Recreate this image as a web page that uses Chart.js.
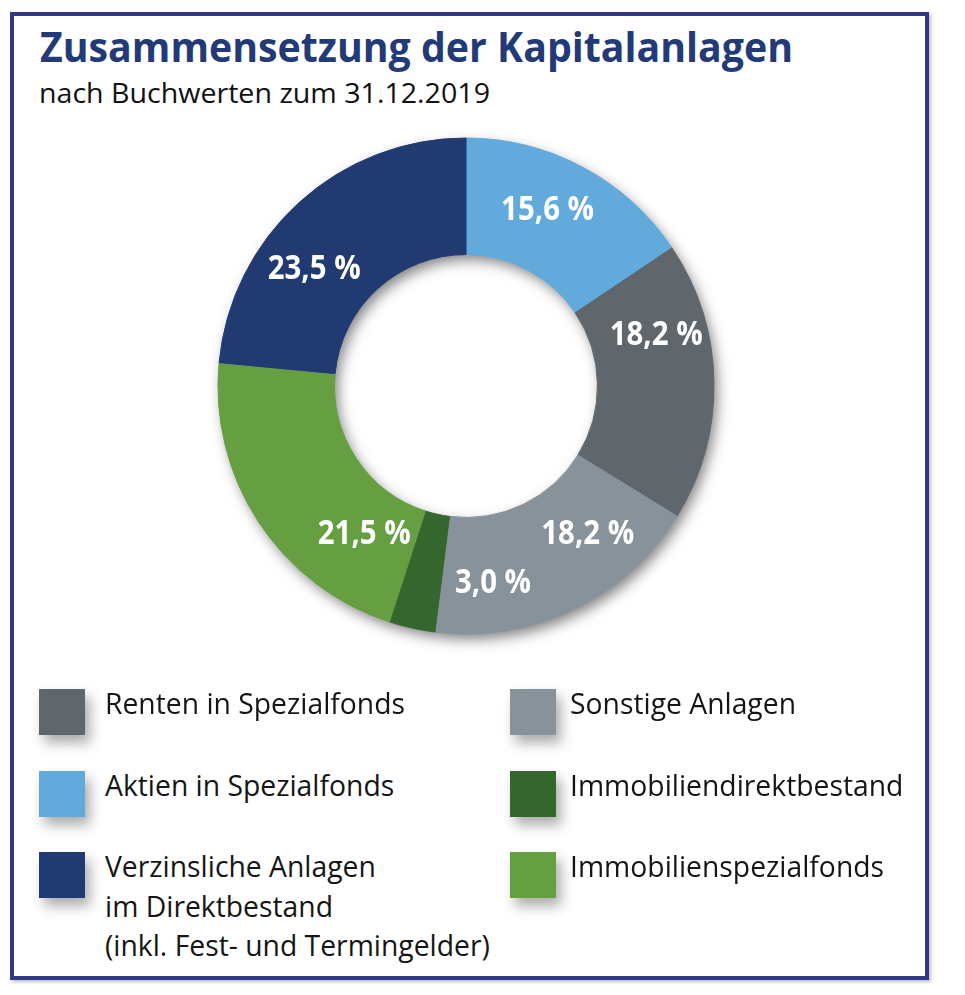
<!DOCTYPE html>
<html><head><meta charset="utf-8">
<script src="https://cdn.jsdelivr.net/npm/chart.js@4.4.1/dist/chart.umd.min.js"></script>
<style>
html,body{margin:0;padding:0;background:#fff;width:965px;height:995px;overflow:hidden;font-family:"Open Sans",sans-serif;}
#frame{position:absolute;left:10px;top:12px;width:919px;height:968px;box-sizing:border-box;border:4px solid #2f3a82;box-shadow:2px 2px 3px rgba(0,0,0,0.25);}
.t{position:absolute;white-space:nowrap;transform-origin:0 0;line-height:1;}
#title{left:40px;top:27.3px;font-size:40.6px;font-weight:700;color:#233a78;}
#sub{left:39px;top:79.7px;font-size:26.6px;color:#111;}
#chartWrap{position:absolute;left:166px;top:86px;width:600px;height:600px;}
.sw{position:absolute;width:46px;height:46px;box-shadow:5px 8px 12px rgba(0,0,0,0.33);}
.lt{position:absolute;font-size:29px;line-height:39.5px;color:#151515;white-space:nowrap;transform-origin:0 0;}
</style></head>
<body>
<div id="frame"></div>
<span class="t" id="title">Zusammensetzung der Kapitalanlagen</span>
<span class="t" id="sub">nach Buchwerten zum 31.12.2019</span>
<div id="chartWrap"><canvas id="c" width="600" height="600"></canvas></div>
<div id="legend"></div>
<script>
// ---- data (clockwise from 12 o'clock) ----
const categories = [
  'Aktien in Spezialfonds',
  'Renten in Spezialfonds',
  'Sonstige Anlagen',
  'Immobiliendirektbestand',
  'Immobilienspezialfonds',
  'Verzinsliche Anlagen\nim Direktbestand\n(inkl. Fest- und Termingelder)'
];
const shares = [15.6, 18.2, 18.2, 3.0, 21.5, 23.5];
const colors = ['#62a9dc', '#5f676c', '#87929b', '#35662e', '#669f41', '#213a72'];
// legend order (column-wise: left column then right column)
const legendOrder = [1, 0, 5, 2, 3, 4];
// label placement tweaks (angle in degrees relative to slice middle, radius as fraction of outer radius)
const labelAngleNudge = [-3.4, -14.5, -14.3, -20.5, -21.8, -9.7];
const labelRadiusFrac = [0.788, 0.796, 0.766, 0.793, 0.717, 0.777];

const fmt = v => v.toFixed(1).replace('.', ',') + ' %';

const shadowPlugin = {
  id: 'ringShadow',
  beforeDatasetsDraw(chart) {
    const arc = chart.getDatasetMeta(0).data[0];
    if (!arc) return;
    const {x, y, innerRadius, outerRadius} = arc.getProps(['x','y','innerRadius','outerRadius'], true);
    const ctx = chart.ctx;
    ctx.save();
    ctx.shadowColor = 'rgba(0,0,0,0.5)';
    ctx.shadowBlur = 14;
    ctx.shadowOffsetX = 4;
    ctx.shadowOffsetY = 6;
    ctx.beginPath();
    ctx.arc(x, y, outerRadius - 1, 0, Math.PI * 2, false);
    ctx.arc(x, y, innerRadius + 1, 0, Math.PI * 2, true);
    ctx.closePath();
    ctx.fillStyle = '#ffffff';
    ctx.fill('evenodd');
    ctx.restore();
  }
};

const labelPlugin = {
  id: 'sliceLabels',
  afterDatasetsDraw(chart) {
    const ctx = chart.ctx;
    const meta = chart.getDatasetMeta(0);
    const fs = 33.6;
    ctx.save();
    ctx.font = '700 ' + fs + 'px "Open Sans"';
    ctx.fillStyle = '#ffffff';
    ctx.textAlign = 'center';
    ctx.textBaseline = 'alphabetic';
    const sx = 93 / ctx.measureText(fmt(15.6)).width;
    meta.data.forEach((a, i) => {
      const p = a.getProps(['x','y','startAngle','endAngle','outerRadius'], true);
      const mid = (p.startAngle + p.endAngle) / 2 + labelAngleNudge[i] * Math.PI / 180;
      const r = p.outerRadius * labelRadiusFrac[i];
      const lx = p.x + r * Math.cos(mid);
      const ly = p.y + r * Math.sin(mid);
      ctx.save();
      ctx.translate(lx, ly + 0.357 * fs);
      ctx.scale(sx, 1);
      ctx.fillText(fmt(chart.data.datasets[0].data[i]), 0, 0);
      ctx.restore();
    });
    ctx.restore();
  }
};

const chart = new Chart(document.getElementById('c'), {
  type: 'doughnut',
  data: {
    labels: categories,
    datasets: [{
      data: shares,
      backgroundColor: colors,
      borderColor: colors,
      borderWidth: 1,
      hoverOffset: 0
    }]
  },
  options: {
    responsive: false,
    animation: false,
    devicePixelRatio: 1,
    radius: 248,
    cutout: '53%',
    rotation: 0,
    layout: {padding: 0},
    plugins: {legend: {display: false}, tooltip: {enabled: false}}
  },
  plugins: [shadowPlugin, labelPlugin]
});

// ---- HTML legend built from chart data ----
const legend = document.getElementById('legend');
const colX = [39, 510], textX = [105, 570];
const rowTop0 = 689, rowStep = 81.5;
const legendTexts = [];
legendOrder.forEach((idx, k) => {
  const col = Math.floor(k / 3), row = k % 3;
  const top = rowTop0 + row * rowStep;
  const sw = document.createElement('div');
  sw.className = 'sw';
  sw.style.left = colX[col] + 'px';
  sw.style.top = top + 'px';
  sw.style.background = chart.data.datasets[0].backgroundColor[idx];
  legend.appendChild(sw);
  const t = document.createElement('div');
  t.className = 'lt';
  t.style.left = textX[col] + 'px';
  t.style.top = (top - 6) + 'px';
  t.innerHTML = chart.data.labels[idx].split('\n').join('<br>');
  legend.appendChild(t);
  legendTexts.push({el: t, idx});
});

function fit(el, target) {
  el.style.transform = 'none';
  const w = el.getBoundingClientRect().width;
  const s = target / w;
  el.style.transform = 'scaleX(' + s + ')';
  return s;
}
fit(document.getElementById('title'), 753);
fit(document.getElementById('sub'), 451);
const refEl = legendTexts.find(o => o.idx === 1).el;
refEl.style.transform = 'none';
const ls = 300 / refEl.getBoundingClientRect().width;
legendTexts.forEach(o => { o.el.style.transform = 'scaleX(' + ls + ')'; });
</script>
</body></html>
